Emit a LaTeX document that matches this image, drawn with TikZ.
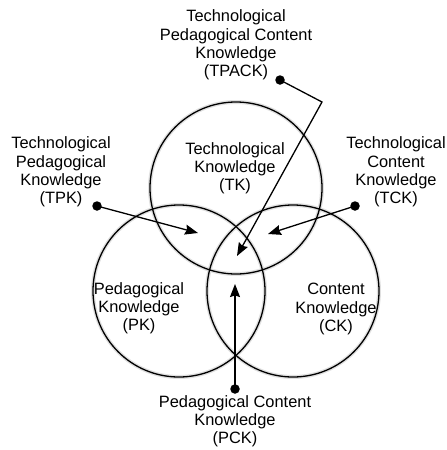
\documentclass[tikz,border=0pt]{standalone}
\usepackage{fontspec}
\setmainfont{Liberation Sans}
\usetikzlibrary{arrows.meta}
\begin{document}
\begin{tikzpicture}[x=1pt,y=-1pt,
  circ/.style={draw=black, line width=1.3pt},
  lbl/.style={align=center, font=\fontsize{16.4}{18.2}\selectfont, inner sep=0pt},
  conn/.style={draw=black, line width=1.3pt, -{Stealth[length=13pt,width=10pt,inset=1.5pt]}},
  dotc/.style={fill=black, circle, inner sep=0pt, minimum size=9.5pt}]
\useasboundingbox (0,0) rectangle (447,450);
% soft halo under circles
\foreach \p in {(236,188),(179,291),(293,291)}{
  \draw[black!12, line width=4pt] \p circle (86);
}
\draw[circ] (236,188) circle (86);
\draw[circ] (179,291) circle (86);
\draw[circ] (293,291) circle (86);
% inner labels
\node[lbl] (tk) at (235,168) {Technological\\Knowledge\\(TK)};
\node[lbl] (pk) at (139,308) {Pedagogical\\Knowledge\\(PK)};
\node[lbl] (ck) at (336,309) {Content\\Knowledge\\(CK)};
% outer labels
\node[lbl] (tpack) at (236,45) {Technological\\Pedagogical Content\\Knowledge\\(TPACK)};
\node[lbl] (tpk) at (61,172) {Technological\\Pedagogical\\Knowledge\\(TPK)};
\node[lbl] (tck) at (396,172) {Technological\\Content\\Knowledge\\(TCK)};
\node[lbl] (pck) at (235,421) {Pedagogical Content\\Knowledge\\(PCK)};
% dots
\node[dotc] (dtpack) at (280,80) {};
\node[dotc] (dtpk) at (97,206) {};
\node[dotc] (dtck) at (355,206) {};
\node[dotc] (dpck) at (235,389) {};
% targets
\coordinate (bend) at (322,102);
\coordinate (ttpack) at (237,256);
\coordinate (ttpk) at (198,233);
\coordinate (ttck) at (268,234);
\coordinate (tpck) at (235,284);
% connectors
\draw[conn] (dtpack.center) -- (bend) -- (ttpack);
\draw[conn] (dtpk.center) -- (ttpk);
\draw[conn] (dtck.center) -- (ttck);
\draw[conn] (dpck.center) -- (tpck);
\end{tikzpicture}
\end{document}
